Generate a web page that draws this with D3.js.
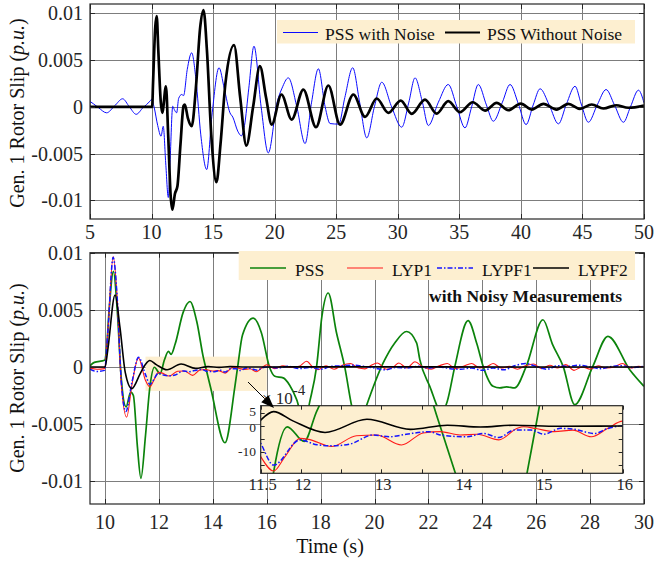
<!DOCTYPE html>
<html>
<head>
<meta charset="utf-8">
<script src="https://cdn.jsdelivr.net/npm/d3@7/dist/d3.min.js"></script>
<style>
  body { margin: 0; background: #fff; }
  svg { display: block; font-family: "Liberation Serif", "Times New Roman", serif; }
</style>
</head>
<body>
<div id="chart"></div>
<script>
// all slip values are in 10^-3 p.u.
let topTicksX = [5, 10, 15, 20, 25, 30, 35, 40, 45, 50];
let bottomTicksX = [10, 12, 14, 16, 18, 20, 22, 24, 26, 28, 30];
let slipTicks = [-10, -5, 0, 5, 10];
let slipTickLabels = ["-0.01", "-0.005", "0", "0.005", "0.01"];
let insetTicksX = [11.5, 12, 12.5, 13, 13.5, 14, 14.5, 15, 15.5, 16];
let insetLabelsX = [11.5, 12, 13, 14, 15, 16];
let insetTicksY = [-1.5, -1, -0.5, 0, 0.5];
let insetLabelsY = [0.5, 0, -1];
let insetLabelsYText = ["5", "0", "-10"];

let topNames = ["PSS with Noise", "PSS Without Noise"];
let bottomNames = ["PSS", "LYP1", "LYPF1", "LYPF2"];

// top panel: PSS with noise (blue)
let pssNoise = [[5,0.58],[5.3,0.3],[5.7,-0.1],[6.35,-0.64],[7.0,0.1],[7.65,0.86],[8.2,0],[8.75,-0.8],[9.3,-0.1],
  [9.87,0.6],[10.0,0.8],[10.2,0],[10.5,-2],[10.77,-3.14],[10.95,-2.08],[11.15,-6],[11.36,-9.7],[11.5,-6],
  [11.72,0.06],[11.85,-0.3],[12.04,-0.64],[12.2,0.9],[12.45,1.32],[12.6,1.2],[12.9,4],[13.26,5.78],[13.6,3],
  [14.0,-3],[14.48,-6.71],[14.9,-1],[15.48,4.18],[15.9,2],[16.37,-0.64],[16.6,-1.1],[17.0,-2.6],[17.3,-3.1],
  [17.55,-2],[17.9,2],[18.32,6.49],[18.9,0],[19.48,-4.93],[20.2,0.5],[20.6,2],[21.11,3.1],[21.8,0],[22.47,-3.93],
  [23.0,0.5],[23.55,4.07],[24.1,0],[24.5,-1.79],[25.2,-1.85],[25.7,1],[26.34,4.18],[26.9,0.5],[27.48,-3.32],
  [28.1,0],[28.7,2.63],[29.5,0],[30.32,-2.18],[30.9,0.5],[31.4,3.1],[32.0,0.5],[32.48,-2],[33.3,0.5],[34.1,2.39],
  [34.8,0],[35.46,-2.25],[36.0,0],[36.54,2.39],[37.2,0.2],[37.76,-1.54],[38.5,0.5],[39.12,2.39],[39.8,0.3],
  [40.42,-1.9],[41.0,0.2],[41.56,1.93],[42.3,0.2],[43.05,-1.82],[43.7,0.3],[44.4,2.2],[44.9,0.3],[45.48,-1.65],
  [46.2,0.2],[46.92,1.85],[47.6,0.2],[48.33,-1.65],[48.9,0],[49.55,1.78],[50,0.43]];

// top panel: PSS without noise (black)
let pssClean = [[5,0],[10.05,0],[10.12,2.5],[10.3,8.5],[10.42,9.7],[10.55,6],[10.75,0.5],[10.87,-0.64],
  [11.17,2.2],[11.35,-3],[11.55,-9.5],[11.69,-11],[11.9,-9.3],[12.1,-8.5],[12.35,-4],[12.6,0.1],[12.7,0.25],
  [12.95,-1.2],[13.26,-2.08],[13.6,2],[13.95,8.5],[14.22,10.35],[14.5,6],[14.85,-3],[15.27,-8.07],[15.6,-4],
  [16.0,2.5],[16.7,6.6],[17.2,1],[17.7,-4.15],[18.25,0],[18.8,4.35],[19.3,1],[19.76,-1.9],[20.55,1.32],
  [21.38,-1.36],[22.33,1.85],[23.36,-2.18],[24.36,2.28],[25.31,-1.9],[26.39,1.32],[27.34,-1.07],[28.29,0.89],
  [29.23,-0.64],[30.24,0.67],[31.13,-0.75],[32.21,0.78],[33.16,-0.72],[34.1,0.6],[35.05,-0.58],[36.09,0.49],
  [37.09,-0.4],[38.03,0.43],[38.98,-0.36],[39.99,0.35],[40.88,-0.29],[41.83,0.32],[42.9,-0.29],[43.85,0.32],
  [44.8,-0.21],[45.75,0.25],[46.7,-0.18],[47.73,0.17],[48.73,-0.1],[50,0.14]];

// bottom panel: PSS (green)
let pss = [[9.44,0.1],[9.6,0.4],[9.98,0.58],[10.05,1.5],[10.15,5],[10.31,8.36],[10.45,5],[10.6,-1],[10.78,-3.5],
  [10.95,-2.2],[11.05,-2.5],[11.2,-7],[11.33,-9.75],[11.5,-6],[11.66,-1.8],[11.83,-0.03],[12.04,-0.6],[12.2,0.6],
  [12.35,1.36],[12.45,1.1],[12.6,2],[12.9,4.8],[13.15,5.73],[13.4,4],[13.65,0.79],[13.73,0],[13.92,-1.84],
  [14.45,-6.64],[14.81,-1.84],[14.92,0],[15.1,2.8],[15.5,4.28],[15.8,3],[16.1,0],[16.3,-0.82],[16.61,-0.96],
  [16.85,-1.6],[17.11,-2.86],[17.4,-5],[17.6,-3],[17.85,0.05],[18.05,4.5],[18.28,6.47],[18.59,2.97],[18.9,-0.09],
  [19.15,-3.4],[19.4,-5.5],[19.7,-3.4],[20.32,0.35],[20.75,2.1],[21.19,3.1],[21.56,2.1],[21.68,0.64],[22.05,-1.7],
  [22.5,-4],[22.7,-3],[22.98,0.05],[23.47,4.05],[23.8,2],[24.03,0.05],[24.4,-1.7],[24.65,-1.84],[24.9,-1.75],
  [25.2,-1.84],[25.63,0.05],[26.25,4.13],[26.6,2],[27.0,0.05],[27.43,-3.3],[28.1,0.05],[28.66,2.68],[29.47,-0.24],
  [30,-1.7]];

// bottom panel: LYP1 (red)
let lyp1 = [[9.44,-0.1],[9.7,-0.2],[9.98,-0.15],[10.1,3],[10.3,9.67],[10.45,6],[10.6,-1.5],[10.8,-4.4],[11.0,-1.5],
  [11.24,0.79],[11.5,-1.19],[11.66,-1.75],[11.8,-1.2],[11.99,-0.48],[12.1,-0.52],[12.38,-0.8],[12.69,-0.38],
  [12.94,-0.35],[13.25,-0.74],[13.52,-0.27],[13.73,-0.22],[13.98,-0.35],[14.19,-0.32],[14.46,-0.54],[14.69,-0.09],
  [14.77,-0.03],[14.92,-0.1],[15.15,-0.22],[15.38,-0.16],[15.61,-0.42],[15.81,-0.1],[16.0,0.19],[16.3,-0.15],
  [16.6,0.1],[16.9,-0.05],[17.2,0.05],[17.48,0.5],[17.7,0],[17.9,-0.25],[18.2,0.1],[18.5,-0.2],[18.8,0.15],
  [19.1,0.3],[19.4,-0.1],[19.64,-0.17],[19.85,0.1],[20.1,0.35],[20.44,-0.2],[20.7,0],[20.9,0.35],[21.2,-0.1],
  [21.5,0.45],[21.8,0],[22.1,-0.2],[22.4,0.1],[22.7,0.3],[23.0,-0.15],[23.3,0.05],[23.6,0.3],[23.9,-0.1],
  [24.2,0.05],[24.4,0.3],[24.7,-0.1],[25.0,0.05],[25.3,-0.2],[25.6,0.1],[25.9,0.25],[26.2,-0.15],[26.5,0.15],
  [26.8,-0.1],[27.1,0.2],[27.4,-0.3],[27.7,0],[28.0,-0.2],[28.3,0.1],[28.6,-0.1],[28.9,0],[29.2,0.3],[29.5,-0.1],
  [29.8,0.05],[30,0]];

// bottom panel: LYPF1 (blue dash-dot)
let lypf1 = [[9.44,-0.2],[9.7,-0.4],[9.98,-0.3],[10.1,3],[10.3,9.6],[10.45,6],[10.6,-1.2],[10.77,-3.9],[11.0,-1.3],
  [11.24,0.85],[11.5,-0.67],[11.66,-1.52],[11.99,-0.54],[12.2,-0.73],[12.38,-0.77],[12.6,-0.71],[12.9,-0.35],
  [13.1,-0.42],[13.31,-0.32],[13.6,-0.22],[13.73,-0.35],[14.06,-0.42],[14.27,-0.29],[14.46,-0.45],[14.65,-0.16],
  [14.86,-0.16],[15.02,-0.32],[15.23,-0.09],[15.4,-0.13],[15.65,-0.29],[15.81,-0.1],[16.0,0],[16.4,-0.1],
  [16.8,0.05],[17.2,-0.15],[17.6,-0.05],[18.0,-0.2],[18.4,0.05],[18.8,0.1],[19.2,0.15],[19.6,0.05],[20.0,-0.1],
  [20.4,-0.25],[20.8,-0.05],[21.2,-0.1],[21.6,0.05],[22.0,-0.1],[22.4,0],[22.8,-0.15],[23.2,-0.2],[23.6,-0.1],
  [24.0,-0.3],[24.4,-0.1],[24.8,-0.25],[25.2,0.1],[25.6,0.3],[26.0,0.05],[26.4,-0.2],[26.8,0.1],[27.2,0.05],
  [27.6,0.15],[28.0,0],[28.4,-0.15],[28.8,0.05],[29.2,0.1],[29.6,-0.05],[30,0.05]];

// bottom panel: LYPF2 (black)
let lypf2 = [[9.44,0],[10.0,0],[10.1,1.5],[10.37,6.3],[10.55,3.5],[10.75,-0.5],[10.99,-1.9],[11.3,-0.6],
  [11.5,0.23],[11.66,0.56],[11.9,0.2],[12.3,-0.25],[12.82,0.26],[13.36,-0.13],[13.82,0.03],[14.23,-0.04],
  [14.64,0.03],[15.2,-0.01],[16,0],[20,0.02],[25,-0.01],[30,0]];

let svgWidth = 659;
let svgHeight = 562;
let gridColor = "#7d7d7d";
let axisColor = "#262626";
let beige = "#fdefd0";

let svg = d3.select("#chart")
  .append("svg")
    .attr("width", svgWidth)
    .attr("height", svgHeight);

let defs = svg.append("defs");

let topX = d3.scaleLinear().domain([5, 50]).range([90, 644]);
let topY = d3.scaleLinear().domain([-12, 11]).range([219, 4]);
let botX = d3.scaleLinear().domain([9.44, 30]).range([90, 644]);
let botY = d3.scaleLinear().domain([-12, 10]).range([504, 252.7]);
let insX = d3.scaleLinear().domain([11.5, 16]).range([260.7, 622.7]);
let insY = d3.scaleLinear().domain([-1.84, 0.79]).range([473.3, 405.7]);

function crisp(v){
  return Math.round(v) + 0.5;
}

function addClip(id, x, y){
  defs.append("clipPath").attr("id", id)
    .append("rect")
      .attr("x", x.range()[0]).attr("y", y.range()[1])
      .attr("width", x.range()[1] - x.range()[0])
      .attr("height", y.range()[0] - y.range()[1]);
}

function drawGrid(g, x, y, xt, yt){
  g.selectAll(".vg").data(xt).enter().append("line")
    .attr("x1", d => crisp(x(d))).attr("x2", d => crisp(x(d)))
    .attr("y1", y.range()[1]).attr("y2", y.range()[0])
    .attr("stroke", gridColor).attr("stroke-width", 1);
  g.selectAll(".hg").data(yt).enter().append("line")
    .attr("y1", d => crisp(y(d))).attr("y2", d => crisp(y(d)))
    .attr("x1", x.range()[0]).attr("x2", x.range()[1])
    .attr("stroke", gridColor).attr("stroke-width", 1);
}

// box + inner ticks on all four sides
function drawBox(g, x, y, xt, yt, len){
  let x0 = x.range()[0], x1 = x.range()[1], y0 = y.range()[1], y1 = y.range()[0];
  let t = g.append("g").attr("stroke", axisColor).attr("stroke-width", 1);
  xt.forEach(d => {
    t.append("line").attr("x1", crisp(x(d))).attr("x2", crisp(x(d))).attr("y1", y1).attr("y2", y1 - len);
    t.append("line").attr("x1", crisp(x(d))).attr("x2", crisp(x(d))).attr("y1", y0).attr("y2", y0 + len);
  });
  yt.forEach(d => {
    t.append("line").attr("y1", crisp(y(d))).attr("y2", crisp(y(d))).attr("x1", x0).attr("x2", x0 + len);
    t.append("line").attr("y1", crisp(y(d))).attr("y2", crisp(y(d))).attr("x1", x1).attr("x2", x1 - len);
  });
  g.append("rect")
    .attr("x", x0).attr("y", y0)
    .attr("width", x1 - x0).attr("height", y1 - y0)
    .attr("fill", "none").attr("stroke", axisColor).attr("stroke-width", 1.2);
}

function drawSeries(g, x, y, data, color, width, dash, clip){
  let line = d3.line()
    .x(d => x(d[0]))
    .y(d => y(d[1]))
    .curve(d3.curveMonotoneX);
  g.append("path")
    .datum(data)
    .attr("d", line)
    .attr("fill", "none")
    .attr("stroke", color)
    .attr("stroke-width", width)
    .attr("stroke-dasharray", dash)
    .attr("stroke-linejoin", "round")
    .attr("clip-path", "url(#" + clip + ")");
}

function yLabels(g, y, xRight){
  g.selectAll(".yl").data(slipTicks).enter().append("text")
    .attr("x", xRight)
    .attr("y", d => y(d))
    .attr("dy", "0.35em")
    .attr("text-anchor", "end")
    .attr("font-size", 20)
    .attr("fill", "#262626")
    .text((d, i) => slipTickLabels[i]);
}

function yTitle(g, cy){
  let t = g.append("text")
    .attr("transform", "translate(17," + cy + ") rotate(-90)")
    .attr("text-anchor", "middle")
    .attr("dy", "0.35em")
    .attr("font-size", 20)
    .attr("fill", "#111");
  t.append("tspan").text("Gen. 1 Rotor Slip (");
  t.append("tspan").attr("font-style", "italic").text("p.u.");
  t.append("tspan").text(")");
}

//// top panel
addClip("clipTop", topX, topY);
let topG = svg.append("g");
drawGrid(topG, topX, topY, topTicksX, slipTicks);
drawSeries(topG, topX, topY, pssNoise, "#0a0aff", 1, null, "clipTop");
drawSeries(topG, topX, topY, pssClean, "#000", 2.7, null, "clipTop");
drawBox(topG, topX, topY, topTicksX, slipTicks, 5);
yLabels(topG, topY, 83);
yTitle(topG, 113);
topG.selectAll(".xl").data(topTicksX).enter().append("text")
  .attr("x", d => topX(d))
  .attr("y", 239)
  .attr("text-anchor", "middle")
  .attr("font-size", 20)
  .attr("fill", "#262626")
  .text(d => d);

// top legend
let topLeg = topG.append("g");
topLeg.append("rect").attr("x", 277).attr("y", 20).attr("width", 358).attr("height", 23.5).attr("fill", beige);
let topLegItems = [{x: 283, color: "#0a0aff", w: 1}, {x: 445, color: "#000", w: 2}];
topLegItems.forEach((d, i) => {
  topLeg.append("line").attr("x1", d.x).attr("x2", d.x + 35).attr("y1", 32.5).attr("y2", 32.5)
    .attr("stroke", d.color).attr("stroke-width", d.w);
  topLeg.append("text").attr("x", d.x + 42).attr("y", 39.5)
    .attr("font-size", 17.5).attr("fill", "#111").text(topNames[i]);
});

//// bottom panel
addClip("clipBot", botX, botY);
let botG = svg.append("g");
drawGrid(botG, botX, botY, bottomTicksX, slipTicks);

// zoomed region marker
botG.append("rect")
  .attr("x", botX(11.5)).attr("y", botY(0.9))
  .attr("width", botX(16) - botX(11.5))
  .attr("height", botY(-2.1) - botY(0.9))
  .attr("fill", beige);

let botSeries = [
  {data: pss, color: "#0b830b", w: 1.7, dash: null},
  {data: lyp1, color: "#ff1a1a", w: 1.1, dash: null},
  {data: lypf1, color: "#1414ff", w: 1.5, dash: "5,2,1.5,2"},
  {data: lypf2, color: "#000", w: 1.6, dash: null}
];
botSeries.forEach(s => drawSeries(botG, botX, botY, s.data, s.color, s.w, s.dash, "clipBot"));
drawBox(botG, botX, botY, bottomTicksX, slipTicks, 5);
yLabels(botG, botY, 83);
yTitle(botG, 378);
botG.selectAll(".xl").data(bottomTicksX).enter().append("text")
  .attr("x", d => botX(d))
  .attr("y", 529)
  .attr("text-anchor", "middle")
  .attr("font-size", 20)
  .attr("fill", "#262626")
  .text(d => d);
botG.append("text")
  .attr("x", 330).attr("y", 553)
  .attr("text-anchor", "middle")
  .attr("font-size", 20)
  .attr("fill", "#111")
  .text("Time (s)");

// bottom legend
let botLeg = botG.append("g");
botLeg.append("rect").attr("x", 238.7).attr("y", 251).attr("width", 396.3).attr("height", 29).attr("fill", beige);
let botLegX = [250, 347, 437, 533];
botSeries.forEach((s, i) => {
  botLeg.append("line").attr("x1", botLegX[i]).attr("x2", botLegX[i] + 36).attr("y1", 268).attr("y2", 268)
    .attr("stroke", s.color).attr("stroke-width", s.w).attr("stroke-dasharray", s.dash);
  botLeg.append("text").attr("x", botLegX[i] + 45).attr("y", 276)
    .attr("font-size", 17.5).attr("fill", "#111").text(bottomNames[i]);
});
botG.append("text")
  .attr("x", 429).attr("y", 302)
  .attr("font-size", 17.5)
  .attr("font-weight", "bold")
  .attr("fill", "#111")
  .text("with Noisy Measurements");

//// inset (zoom of 11.5 - 16 s)
addClip("clipIns", insX, insY);
let insG = svg.append("g");
insG.append("rect")
  .attr("x", insX.range()[0]).attr("y", insY.range()[1])
  .attr("width", insX.range()[1] - insX.range()[0])
  .attr("height", insY.range()[0] - insY.range()[1])
  .attr("fill", beige);
botSeries.forEach(s => drawSeries(insG, insX, insY, s.data, s.color, s.w, s.dash, "clipIns"));
drawBox(insG, insX, insY, insetTicksX, insetTicksY, 4);
insG.selectAll(".ixl").data(insetLabelsX).enter().append("text")
  .attr("x", d => insX(d) + 2)
  .attr("y", 490)
  .attr("text-anchor", "middle")
  .attr("font-size", 16.5)
  .attr("fill", "#262626")
  .text(d => d);
// small nudge keeps the close "5" and "0" labels apart
let insetLabelNudge = [-2, 2, 0];
insG.selectAll(".iyl").data(insetLabelsY).enter().append("text")
  .attr("x", 256)
  .attr("y", (d, i) => insY(d) + insetLabelNudge[i])
  .attr("dy", "0.33em")
  .attr("text-anchor", "end")
  .attr("font-size", 13.5)
  .attr("fill", "#262626")
  .text((d, i) => insetLabelsYText[i]);
let expo = insG.append("text").attr("x", 262).attr("y", 404).attr("font-size", 17).attr("fill", "#262626");
expo.append("tspan").text("× 10");
expo.append("tspan").attr("dy", -9).attr("font-size", 15).text("-4");

// arrow from highlighted region to inset
let a0 = [248, 382], a1 = [274, 408];
let dx = a1[0] - a0[0], dy = a1[1] - a0[1], len = Math.hypot(dx, dy);
let ux = dx / len, uy = dy / len, headL = 13, headW = 5;
svg.append("line")
  .attr("x1", a0[0]).attr("y1", a0[1])
  .attr("x2", a1[0] - ux * headL).attr("y2", a1[1] - uy * headL)
  .attr("stroke", "#000").attr("stroke-width", 1);
svg.append("path")
  .attr("d", "M" + a1[0] + "," + a1[1] +
    "L" + (a1[0] - ux * headL - uy * headW) + "," + (a1[1] - uy * headL + ux * headW) +
    "L" + (a1[0] - ux * headL + uy * headW) + "," + (a1[1] - uy * headL - ux * headW) + "Z")
  .attr("fill", "#000");
</script>
</body>
</html>
